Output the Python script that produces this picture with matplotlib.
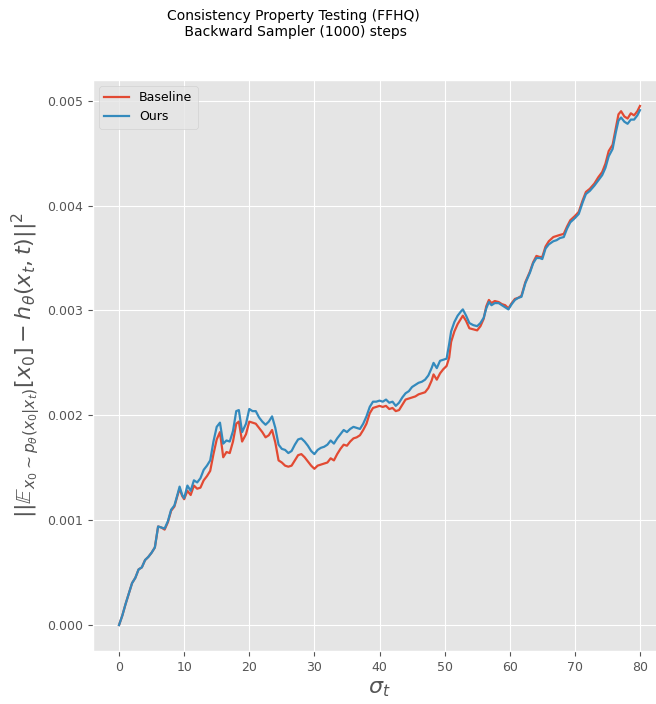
import numpy as np
import matplotlib
matplotlib.use("Agg")
import matplotlib.pyplot as plt

plt.style.use("ggplot")

# noise level sigma_t along the backward sampler
sigma = [0, 0.5, 1, 1.5, 2, 2.5, 3, 3.5, 4, 4.5, 5, 5.5, 6, 6.5, 7, 7.5, 8, 8.5, 9, 9.3,
         9.7, 10, 10.5, 11, 11.5, 12, 12.5, 13, 13.5, 14, 14.5, 15, 15.5, 16, 16.5, 17, 17.5, 18, 18.4, 18.9,
         19.5, 20, 20.5, 21, 21.5, 22, 22.5, 23, 23.5, 24, 24.5, 25, 25.5, 26, 26.5, 27, 27.5, 28, 28.5, 29,
         29.5, 30, 30.5, 31, 31.5, 32, 32.5, 33, 33.5, 34, 34.5, 35, 35.5, 36, 36.5, 37, 37.5, 38, 38.5, 39,
         39.5, 40, 40.5, 41, 41.5, 42, 42.5, 43, 43.5, 44, 44.5, 45, 45.5, 46, 46.5, 47, 47.5, 48, 48.3, 48.8,
         49.3, 49.8, 50.3, 50.7, 51, 51.5, 52, 52.5, 52.8, 53.3, 53.8, 54.4, 55, 55.5, 56, 56.4, 56.8, 57.2,
         57.7, 58.3, 58.8, 59.3, 59.8, 60.3, 60.8, 61.3, 61.8, 62.4, 63.1, 63.6, 64.1, 64.6, 65, 65.5, 66,
         66.7, 67.2, 67.7, 68.3, 68.8, 69.3, 70, 70.6, 71.2, 71.7, 72.3, 73, 73.6, 74.2, 74.7, 75.2, 75.8,
         76.3, 76.7, 77.1, 77.6, 78.1, 78.6, 79.1, 79.6, 80]

baseline = [0, 0.00009, 0.0002, 0.0003, 0.0004, 0.00045, 0.00053, 0.00055, 0.00062, 0.00065,
            0.00069, 0.00074, 0.00094, 0.00093, 0.00091, 0.00098, 0.00109, 0.00113, 0.00124, 0.0013,
            0.00123, 0.0012, 0.00128, 0.00124, 0.00133, 0.0013, 0.00131, 0.00138, 0.00142, 0.00147,
            0.00163, 0.00177, 0.00184, 0.0016, 0.00165, 0.00164, 0.00175, 0.00192, 0.00194, 0.00175,
            0.00182, 0.00194, 0.00193, 0.00192, 0.00188, 0.00184, 0.00179, 0.00181, 0.00186, 0.00174,
            0.00157, 0.00155, 0.00152, 0.00151, 0.00152, 0.00157, 0.00162, 0.00163, 0.0016, 0.00156,
            0.00152, 0.00149, 0.00152, 0.00153, 0.00154, 0.00155, 0.00159, 0.00157, 0.00163, 0.00168,
            0.00172, 0.00171, 0.00175, 0.00178, 0.00179, 0.00181, 0.00186, 0.00192, 0.00202, 0.00207,
            0.00208, 0.00209, 0.00208, 0.00209, 0.00206, 0.00207, 0.00204, 0.00205, 0.0021, 0.00215,
            0.00216, 0.00217, 0.00218, 0.0022, 0.00221, 0.00222, 0.00226, 0.00233, 0.00239, 0.00234,
            0.0024, 0.00244, 0.00247, 0.00255, 0.0027, 0.0028, 0.00287, 0.00292, 0.00295, 0.0029,
            0.00283, 0.00282, 0.00281, 0.00285, 0.00292, 0.00304, 0.0031, 0.00307,
            0.00309, 0.00308, 0.00306, 0.00305, 0.00302, 0.00307, 0.00311, 0.00312, 0.00314, 0.00327,
            0.00337, 0.00346, 0.00352, 0.00351, 0.00351, 0.00361, 0.00366,
            0.0037, 0.00371, 0.00372, 0.00373, 0.0038, 0.00386, 0.0039, 0.00394, 0.00405, 0.00413,
            0.00416, 0.00421, 0.00427, 0.00432, 0.0044, 0.00452, 0.00458,
            0.00474, 0.00487, 0.0049, 0.00485, 0.00483, 0.00488, 0.00486, 0.0049, 0.00495]

ours = [0, 0.00009, 0.0002, 0.0003, 0.0004, 0.00045, 0.00053, 0.00055, 0.00062, 0.00065,
        0.00069, 0.00074, 0.00094, 0.00093, 0.00092, 0.00099, 0.0011, 0.00114, 0.00125, 0.00132,
        0.00124, 0.00121, 0.00133, 0.00128, 0.00138, 0.00136, 0.0014, 0.00148, 0.00152, 0.00157,
        0.00175, 0.00189, 0.00193, 0.00173, 0.00176, 0.00175, 0.00185, 0.00204, 0.00205, 0.00184,
        0.00192, 0.00206, 0.00204, 0.00204, 0.00198, 0.00194, 0.00191, 0.00194, 0.00199, 0.00188,
        0.00172, 0.00168, 0.00167, 0.00164, 0.00166, 0.00172, 0.00177, 0.00178, 0.00175, 0.00171,
        0.00166, 0.00163, 0.00167, 0.00169, 0.0017, 0.00172, 0.00176, 0.00173, 0.00178, 0.00182,
        0.00186, 0.00184, 0.00187, 0.00189, 0.00188, 0.00187, 0.00192, 0.00199, 0.00208, 0.00213,
        0.00213, 0.00214, 0.00213, 0.00215, 0.00212, 0.00213, 0.00209, 0.00212, 0.00217, 0.00221,
        0.00223, 0.00227, 0.00229, 0.00231, 0.00232, 0.00234, 0.00238, 0.00245, 0.0025, 0.00245,
        0.00252, 0.00253, 0.00254, 0.00268, 0.0028, 0.00289, 0.00295, 0.00299, 0.00301, 0.00295,
        0.00288, 0.00286, 0.00285, 0.00288, 0.00293, 0.00302, 0.00308, 0.00305,
        0.00307, 0.00307, 0.00305, 0.00303, 0.00301, 0.00306, 0.0031, 0.00312, 0.00313, 0.00326,
        0.00336, 0.00345, 0.0035, 0.0035, 0.00349, 0.00359, 0.00363,
        0.00366, 0.00367, 0.00369, 0.0037, 0.00378, 0.00384, 0.00388, 0.00392, 0.00403, 0.00411,
        0.00414, 0.00419, 0.00424, 0.00429, 0.00436, 0.00447, 0.00454,
        0.0047, 0.00481, 0.00484, 0.0048, 0.00478, 0.00482, 0.00482, 0.00486, 0.00491]

fig = plt.figure(figsize=(6.56, 7.04), dpi=100)
ax = fig.add_axes([93 / 656, 1 - 651 / 704, (666 - 93) / 656, (651 - 80) / 704])

ax.plot(sigma, baseline, label="Baseline", lw=1.6)
ax.plot(sigma, ours, label="Ours", lw=1.6)

ax.set_xticks([0, 10, 20, 30, 40, 50, 60, 70, 80])
ax.set_yticks([0.0, 0.001, 0.002, 0.003, 0.004, 0.005])
ax.yaxis.set_major_formatter(matplotlib.ticker.FormatStrFormatter("%.3f"))
ax.tick_params(labelsize=9)

ax.set_xlabel(r"$\sigma_t$", fontsize=16)
ax.set_ylabel(r"$||\mathbb{E}_{x_0 \sim p_\theta(x_0|x_t)}[x_0] - h_\theta(x_t, t)||^2$", fontsize=16)
ax.legend(loc="upper left", fontsize=9)

fig.suptitle("Consistency Property Testing (FFHQ)\n Backward Sampler (1000) steps",
             fontsize=10, x=0.447, y=0.987)

plt.savefig("out.png", dpi=100)
